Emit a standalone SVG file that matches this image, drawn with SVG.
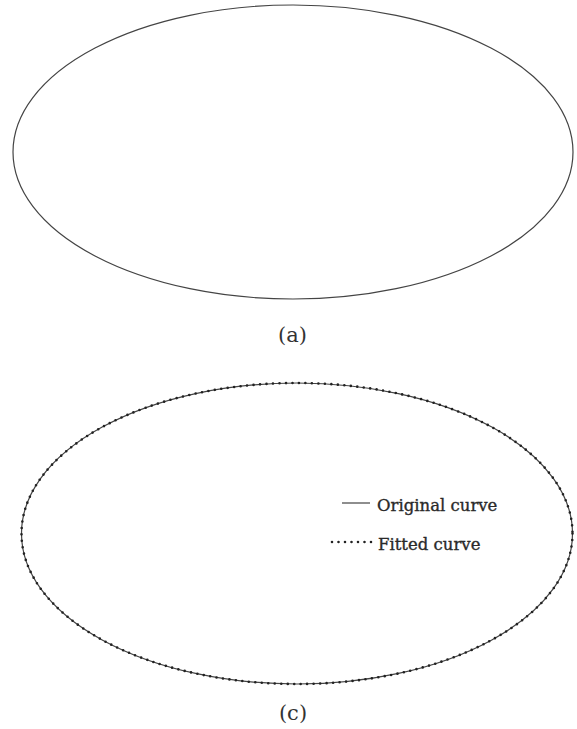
<svg xmlns="http://www.w3.org/2000/svg" width="577" height="729" viewBox="0 0 577 729">
<style>
.orig{fill:none;stroke:#444;stroke-width:1.2}
.fit{fill:none;stroke:#222;stroke-width:2.6;stroke-linecap:round;stroke-dasharray:0 6.5}
.lbl{font-family:"DejaVu Serif","Liberation Serif",serif;font-size:21px;fill:#333;text-anchor:middle}
.leg{font-family:"DejaVu Serif","Liberation Serif",serif;font-size:16.5px;fill:#2a2a2a;stroke:#2a2a2a;stroke-width:0.35}
</style>
<rect width="577" height="729" fill="#fff"/>
<g id="panel-a">
<ellipse class="orig" cx="293" cy="152" rx="280" ry="147"/>
<text class="lbl" x="292.5" y="342">(a)</text>
</g>
<g id="panel-c">
<ellipse class="orig" cx="297" cy="533.5" rx="275.5" ry="150.5"/>
<ellipse class="fit" cx="297" cy="533.5" rx="275.5" ry="150.5"/>
<text class="lbl" x="293" y="720">(c)</text>
</g>
<g id="legend">
<line class="orig" x1="342" y1="503" x2="370" y2="503"/>
<text class="leg" x="377" y="511">Original curve</text>
<line class="fit" x1="332" y1="542" x2="372" y2="542"/>
<text class="leg" x="378" y="550">Fitted curve</text>
</g>
</svg>
